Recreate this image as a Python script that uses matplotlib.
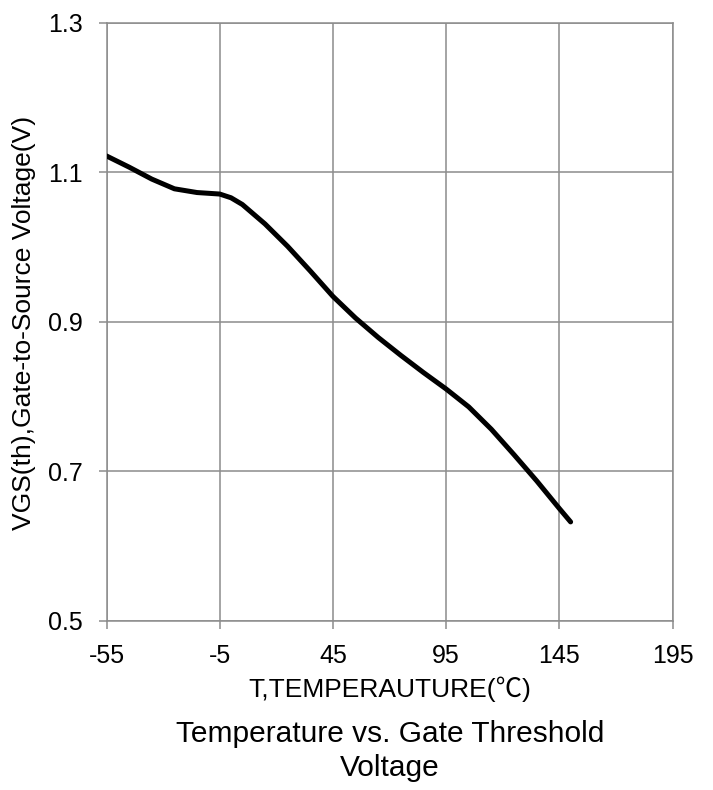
import numpy as np
import matplotlib.pyplot as plt

# data
temp = [-55, -45, -35, -25, -15, -5, 0, 5, 15, 25, 35, 45, 55, 65, 75, 85,
        95, 105, 115, 125, 135, 145, 150]
vth = [1.122, 1.107, 1.091, 1.078, 1.073, 1.071, 1.066, 1.057, 1.031, 1.001,
       0.968, 0.934, 0.905, 0.879, 0.855, 0.832, 0.810, 0.786, 0.756, 0.722,
       0.687, 0.650, 0.632]
xticks = [-55, -5, 45, 95, 145, 195]
yticks = [0.5, 0.7, 0.9, 1.1, 1.3]

plt.rcParams['font.family'] = ['Liberation Sans', 'Noto Sans CJK SC', 'DejaVu Sans']
grid_c = '#8c8c8c'

fig = plt.figure(figsize=(7.13, 7.9), dpi=100)
ax = fig.add_axes([106.5 / 713, 1 - 620.5 / 790, 566 / 713, 597.5 / 790])

ax.plot(temp, vth, color='black', lw=3.6, solid_capstyle='round',
        solid_joinstyle='round', zorder=3)

ax.set_xlim(-55, 195)
ax.set_ylim(0.5, 1.3)
ax.set_xticks(xticks)
ax.set_yticks(yticks)
ax.set_xticklabels([str(t) for t in xticks])
ax.set_yticklabels(['%.1f' % t for t in yticks])
ax.grid(True, color=grid_c, lw=1.1)
ax.set_axisbelow(True)
for s in ax.spines.values():
    s.set_color(grid_c)
    s.set_linewidth(1.1)
ax.tick_params(axis='both', direction='out', length=6, width=1.1, color=grid_c,
               labelsize=18)
ax.tick_params(axis='x', pad=11)
ax.tick_params(axis='y', pad=11)

fig.text(390 / 713, 1 - 689 / 790, 'T,TEMPERAUTURE(℃)', ha='center', va='center',
         fontsize=19)
fig.text(390 / 713, 1 - 751 / 790, 'Temperature vs. Gate Threshold\nVoltage',
         ha='center', va='center', fontsize=21.5, linespacing=1.25)
fig.text(24 / 713, 1 - 323 / 790, 'VGS(th),Gate-to-Source Voltage(V)', ha='center',
         va='center', rotation=90, fontsize=19)

fig.savefig('out.png', dpi=100)
